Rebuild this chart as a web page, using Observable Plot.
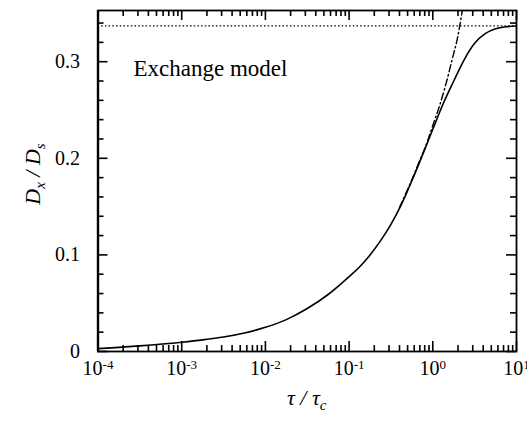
<!DOCTYPE html>
<html><head><meta charset="utf-8">
<script src="https://cdn.jsdelivr.net/npm/d3@7"></script>
<script src="https://cdn.jsdelivr.net/npm/@observablehq/plot@0.6"></script>
<style>
body{margin:0;background:#fff;}
</style>
</head><body><div id="chart"></div>
<script>
// Solid curve: exchange model D_x/D_s versus tau/tau_c
const tau = [1e-4, 3.16e-4, 1e-3, 1.78e-3, 3.16e-3, 5.62e-3, 1e-2, 1.78e-2, 3.16e-2, 5.62e-2,
             0.1, 0.133, 0.178, 0.237, 0.316, 0.422, 0.562, 0.75, 1, 1.33, 1.78, 2.37, 3.16, 4.22, 5.62, 7.5, 10];
const ratio = [0.0030, 0.0058, 0.0096, 0.0120, 0.0150, 0.0192, 0.0250, 0.0330, 0.0445, 0.0590,
               0.0775, 0.0875, 0.1000, 0.1145, 0.1315, 0.1523, 0.1767, 0.2030, 0.2300, 0.2565, 0.2800, 0.3020, 0.3190, 0.3290, 0.3340, 0.3362, 0.3370];
// Dash-dot curve: short-time approximation
const approxTau = [0.4, 0.55, 0.7, 0.85, 1.0, 1.2, 1.4, 1.7, 2.0, 2.25];
const approxRatio = [0.149, 0.176, 0.198, 0.216, 0.234, 0.254, 0.2735, 0.302, 0.327, 0.353];
// Dotted asymptote
const asymptote = [0.337];
// Ticks
const xTicks = [1e-4, 1e-3, 1e-2, 1e-1, 1, 10];
const xTickExponents = ["-4", "-3", "-2", "-1", "0", "1"];
const yTicks = [0, 0.1, 0.2, 0.3];
const yTickLabels = ["0", "0.1", "0.2", "0.3"];
const noteText = "Exchange model";

const xMinor = [];
for (let e = -4; e < 1; e++) for (let m = 2; m <= 9; m++) xMinor.push(m * Math.pow(10, e));
const yMinor = d3.range(0.02, 0.35, 0.02).filter(v => Math.abs(v * 10 - Math.round(v * 10)) > 1e-6);

const W = 527, H = 422;
const mL = 97.5, mR = 11, mT = 10, mB = 71;
const pW = W - mL - mR, pH = H - mT - mB;
const xDomain = [1e-4, 10], yDomain = [0, 0.353];

const main = tau.map((t, i) => ({t, r: ratio[i]}));
const approx = approxTau.map((t, i) => ({t, r: approxRatio[i]}));
const font = "'Liberation Serif', 'Times New Roman', serif";

// tick lengths in pixels, converted to scale units
const yPerPx = (yDomain[1] - yDomain[0]) / pH;
const decPerPx = Math.log10(xDomain[1] / xDomain[0]) / pW;
const tk = {stroke: "#000", strokeWidth: 1.6};
const tickMarks = (values, size) => [
  Plot.ruleX(values, {x: d => d, y1: yDomain[0], y2: yDomain[0] + size * yPerPx, ...tk}),  // bottom, inward
  Plot.ruleX(values, {x: d => d, y1: yDomain[1] - size * yPerPx, y2: yDomain[1], ...tk})   // top, inward
];
const tickMarksY = (values, size) => [
  Plot.ruleY(values, {y: d => d, x1: xDomain[0], x2: xDomain[0] * Math.pow(10, size * decPerPx), ...tk}), // left
  Plot.ruleY(values, {y: d => d, x1: xDomain[1] / Math.pow(10, size * decPerPx), x2: xDomain[1], ...tk})  // right
];

const chart = Plot.plot({
  width: W, height: H,
  marginLeft: mL, marginRight: mR, marginTop: mT, marginBottom: mB,
  style: {fontFamily: font, fontSize: "20px", color: "#000", background: "#fff"},
  x: {type: "log", domain: xDomain},
  y: {domain: yDomain},
  marks: [
    Plot.ruleY(asymptote, {stroke: "#000", strokeWidth: 1.2, strokeDasharray: "1.5,2.2"}),
    Plot.line(approx, {x: "t", y: "r", stroke: "#000", strokeWidth: 1.4, strokeDasharray: "7,3,1.5,3", curve: "monotone-x", clip: true}),
    Plot.line(main, {x: "t", y: "r", stroke: "#000", strokeWidth: 1.6, curve: "monotone-x"}),
    ...tickMarks(xTicks, 10),
    ...tickMarks(xMinor, 6),
    ...tickMarksY(yTicks, 10),
    ...tickMarksY(yMinor, 6),
    Plot.frame({stroke: "#000", strokeWidth: 1.8}),
    Plot.ruleX([xDomain[0]], {stroke: "#000", strokeWidth: 2.4}),
    Plot.axisX(xTicks, {anchor: "bottom", tickSize: 0, tickPadding: 9, fontSize: 20, label: null,
      tickFormat: d => "10^" + xTickExponents[xTicks.indexOf(d)]}),
    Plot.axisY(yTicks, {anchor: "left", tickSize: 0, tickPadding: 18, fontSize: 20, label: null,
      tickFormat: d => yTickLabels[yTicks.indexOf(d)]}),
    Plot.text([noteText], {text: d => d, frameAnchor: "top-left", dx: 35.5, dy: 49, textAnchor: "start", fontSize: 23, fill: "#000"})
  ]
});

const svg = d3.select(chart);
// superscripts on x tick labels
svg.selectAll('g[aria-label="x-axis tick label"] text').each(function() {
  const s = this.textContent;
  if (!s.startsWith("10^")) return;
  const exp = s.slice(3);
  const t = d3.select(this);
  t.text("");
  t.append("tspan").text("10");
  t.append("tspan").attr("font-size", 13).attr("dy", "-0.45em").text(exp);
});

// axis titles with subscripts
const yl = svg.append("text")
  .attr("transform", `translate(40,174) rotate(-90)`)
  .attr("text-anchor", "middle")
  .attr("font-family", font).attr("font-style", "italic").attr("font-size", 22).attr("fill", "#000");
yl.append("tspan").text("D");
yl.append("tspan").attr("font-size", 15).attr("dy", 5).text("x");
yl.append("tspan").attr("dy", -5).text(" / D");
yl.append("tspan").attr("font-size", 15).attr("dy", 5).text("s");

const xl = svg.append("text")
  .attr("x", mL + pW / 2).attr("y", 405)
  .attr("text-anchor", "middle")
  .attr("font-family", font).attr("font-style", "italic").attr("font-size", 22).attr("fill", "#000");
xl.append("tspan").text("τ / τ");
xl.append("tspan").attr("font-size", 15).attr("dy", 5).text("c");

document.getElementById("chart").appendChild(chart);
</script>
</body></html>
